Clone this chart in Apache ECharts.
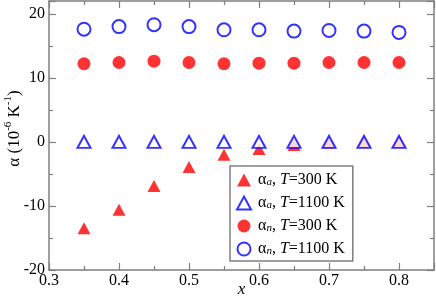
<!DOCTYPE html>
<html><head><meta charset="utf-8">
<script src="https://cdn.jsdelivr.net/npm/echarts@6/dist/echarts.min.js"></script>
<style>html,body{margin:0;padding:0;background:#fff}#c{width:436px;height:298px}</style>
</head><body><div id="c"></div>
<script>
var xValues = [0.35, 0.40, 0.45, 0.50, 0.55, 0.60, 0.65, 0.70, 0.75, 0.80];
var alphaA300 = [-13.5, -10.6, -6.9, -3.9, -2.0, -1.1, -0.5, -0.1, 0.0, 0.0];
var alphaA1100 = [0.0, 0.0, 0.0, 0.0, 0.0, 0.0, 0.0, 0.0, 0.0, 0.0];
var alphaN300 = [12.2, 12.4, 12.6, 12.4, 12.2, 12.3, 12.3, 12.4, 12.4, 12.4];
var alphaN1100 = [17.6, 18.0, 18.3, 18.0, 17.5, 17.5, 17.3, 17.4, 17.3, 17.1];
var xTicks = [0.3, 0.4, 0.5, 0.6, 0.7, 0.8];
var yTicks = [-20, -10, 0, 10, 20];
var seriesNames = ['aa300', 'aa1100', 'an300', 'an1100'];
var legendLabels = {
  aa300: ['a', '300'], aa1100: ['a', '1100'], an300: ['n', '300'], an1100: ['n', '1100']
};

function pair(ys) { return xValues.map(function (x, i) { return [x, ys[i]]; }); }
var FONT = '"Liberation Serif", "Times New Roman", serif';
var AX = '#7f7f7f';

function near(v, list) { return list.some(function (t) { return Math.abs(t - v) < 1e-6; }); }

function mkX(pos, showLabel) {
  return {
    type: 'value', position: pos, min: 0.3, max: 0.85, interval: 0.1,
    axisLine: { show: true, onZero: false, lineStyle: { color: AX, width: 1.5 } },
    axisTick: { show: true, inside: true, length: 7, lineStyle: { color: AX, width: 1.2 } },
    minorTick: { show: true, splitNumber: 2, length: 4, lineStyle: { color: AX, width: 1.2 } },
    splitLine: { show: false },
    axisLabel: {
      show: showLabel, margin: 3, color: '#000', fontFamily: FONT, fontSize: 16,
      showMaxLabel: false, hideOverlap: false,
      formatter: function (v) { return near(v, xTicks) ? v.toFixed(1) : ''; }
    },
    name: showLabel ? 'x' : '', nameLocation: 'middle', nameGap: 11, nameMoveOverlap: false,
    nameTextStyle: { fontFamily: FONT, fontSize: 17, fontStyle: 'italic', color: '#000' }
  };
}
function mkY(pos, showLabel) {
  return {
    type: 'value', position: pos, min: -20, max: 22, interval: 10,
    axisLine: { show: true, onZero: false, lineStyle: { color: AX, width: 1.5 } },
    axisTick: { show: true, inside: true, length: 7, lineStyle: { color: AX, width: 1.2 } },
    minorTick: { show: true, splitNumber: 2, length: 4, lineStyle: { color: AX, width: 1.2 } },
    splitLine: { show: false },
    axisLabel: {
      show: showLabel, margin: 4, color: '#000', fontFamily: FONT, fontSize: 16,
      showMaxLabel: false, hideOverlap: false,
      formatter: function (v) { return near(v, yTicks) ? String(v) : ''; }
    },
    name: showLabel ? '{t|α (10}{sup|-6}{t| K}{sup|-1}{t|)}' : '',
    nameLocation: 'middle', nameGap: 26, nameRotate: 90, nameMoveOverlap: false,
    nameTextStyle: {
      color: '#000', fontFamily: FONT, fontSize: 17, padding: [0, 0, 0, 14],
      rich: {
        t: { fontFamily: FONT, fontSize: 17, color: '#000', lineHeight: 20, verticalAlign: 'bottom' },
        sup: { fontFamily: FONT, fontSize: 11, color: '#000', lineHeight: 20, verticalAlign: 'top', padding: [0, 0, 8, 0] }
      }
    }
  };
}

var chart = echarts.init(document.getElementById('c'), null, { renderer: 'canvas' });
var RED = '#ff0000', BLUE = '#0000ff';
chart.setOption({
  animation: false,
  backgroundColor: '#fff',
  grid: { left: 49, right: 2, top: 1, bottom: 28, containLabel: false, outerBoundsMode: 'none' },
  xAxis: [mkX('bottom', true), mkX('top', false)],
  yAxis: [mkY('left', true), mkY('right', false)],
  legend: {
    orient: 'vertical', left: 230, top: 166,
    padding: [5, 8, 4, 6], itemGap: 6, itemWidth: 14, itemHeight: 13,
    borderColor: '#808080', borderWidth: 1.5, backgroundColor: '#fff',
    data: seriesNames,
    formatter: function (name) {
      var l = legendLabels[name];
      return '{g|α}{s|' + l[0] + '}{g|, }{i|T}{g|=' + l[1] + ' K}';
    },
    textStyle: {
      fontFamily: FONT, fontSize: 16, color: '#000', padding: [0, 0, 0, 2],
      rich: {
        g: { fontFamily: FONT, fontSize: 16, color: '#000', lineHeight: 16, verticalAlign: 'bottom' },
        i: { fontFamily: FONT, fontSize: 16, fontStyle: 'italic', color: '#000', lineHeight: 16, verticalAlign: 'bottom' },
        s: { fontFamily: FONT, fontSize: 11, fontStyle: 'italic', color: '#000', lineHeight: 16, verticalAlign: 'bottom', padding: [6, 0, 0, 0] }
      }
    }
  },
  series: [
    { name: 'aa300', type: 'scatter', data: pair(alphaA300), symbol: 'triangle', symbolSize: [13, 12],
      itemStyle: { color: RED } },
    { name: 'aa1100', type: 'scatter', data: pair(alphaA1100), symbol: 'emptyTriangle', symbolSize: [13, 12],
      itemStyle: { color: BLUE, borderColor: BLUE, borderWidth: 1.2 } },
    { name: 'an300', type: 'scatter', data: pair(alphaN300), symbol: 'circle', symbolSize: 13,
      itemStyle: { color: RED } },
    { name: 'an1100', type: 'scatter', data: pair(alphaN1100), symbol: 'emptyCircle', symbolSize: 13,
      itemStyle: { color: BLUE, borderColor: BLUE, borderWidth: 1.2 } }
  ]
});
</script>
</body></html>
